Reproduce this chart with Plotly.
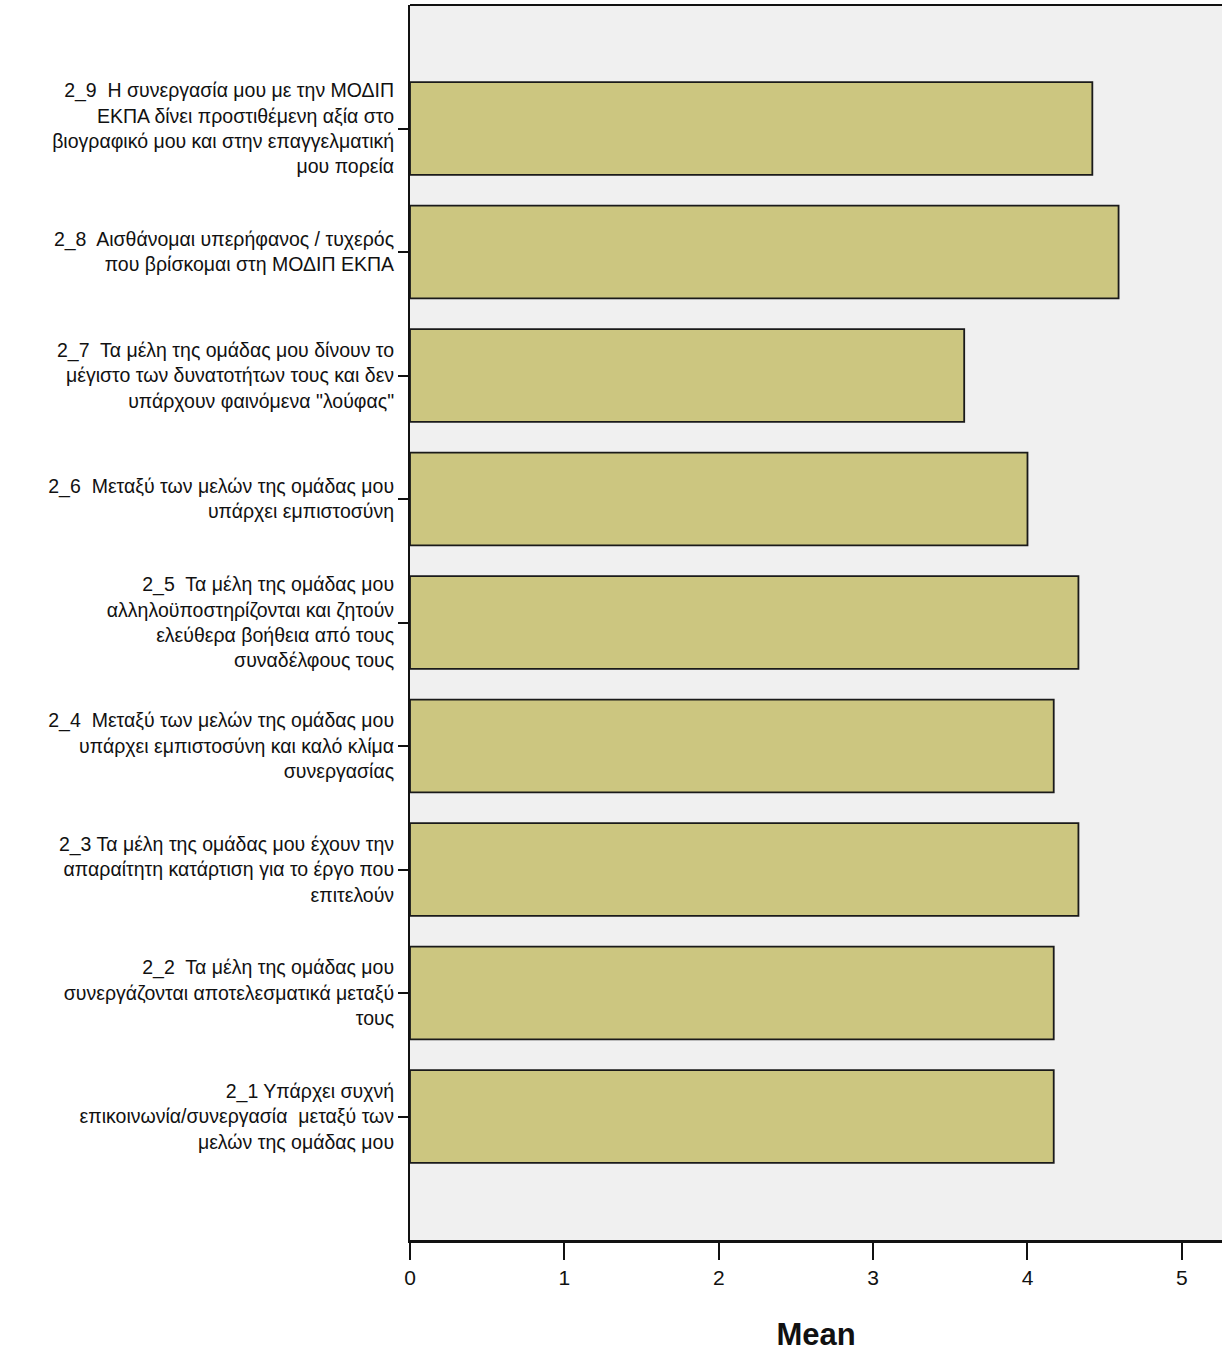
import plotly.graph_objects as go

# Survey items (bottom to top) and their mean scores
items = [
    "2_1 Υπάρχει συχνή<br>επικοινωνία/συνεργασία  μεταξύ των<br>μελών της ομάδας μου",
    "2_2  Τα μέλη της ομάδας μου<br>συνεργάζονται αποτελεσματικά μεταξύ<br>τους",
    "2_3 Τα μέλη της ομάδας μου έχουν την<br>απαραίτητη κατάρτιση για το έργο που<br>επιτελούν",
    "2_4  Μεταξύ των μελών της ομάδας μου<br>υπάρχει εμπιστοσύνη και καλό κλίμα<br>συνεργασίας",
    "2_5  Τα μέλη της ομάδας μου<br>αλληλοϋποστηρίζονται και ζητούν<br>ελεύθερα βοήθεια από τους<br>συναδέλφους τους",
    "2_6  Μεταξύ των μελών της ομάδας μου<br>υπάρχει εμπιστοσύνη",
    "2_7  Τα μέλη της ομάδας μου δίνουν το<br>μέγιστο των δυνατοτήτων τους και δεν<br>υπάρχουν φαινόμενα \"λούφας\"",
    "2_8  Αισθάνομαι υπερήφανος / τυχερός<br>που βρίσκομαι στη ΜΟΔΙΠ ΕΚΠΑ",
    "2_9  Η συνεργασία μου με την ΜΟΔΙΠ<br>ΕΚΠΑ δίνει προστιθέμενη αξία στο<br>βιογραφικό μου και στην επαγγελματική<br>μου πορεία",
]
means = [4.17, 4.17, 4.33, 4.17, 4.33, 4.00, 3.59, 4.59, 4.42]

x_ticks = [0, 1, 2, 3, 4, 5]

font_family = "Liberation Sans, Arial, sans-serif"

fig = go.Figure()
fig.add_trace(go.Bar(
    x=means, y=items, orientation="h", width=0.75,
    marker=dict(color="#ccc680", line=dict(color="#1a1a1a", width=1.8)),
))

fig.update_layout(
    width=1222, height=1352,
    margin=dict(l=410, r=0, t=5, b=112),
    paper_bgcolor="white", plot_bgcolor="#f0f0f0",
    font=dict(family=font_family, color="#111111"),
    showlegend=False, bargap=0.25,
    xaxis=dict(
        range=[0, 5.26], tickvals=x_ticks, ticks="outside", ticklen=17, tickwidth=1.5,
        tickcolor="#111111", showgrid=False, zeroline=False, automargin=False,
        showline=True, linewidth=3, linecolor="#111111",
        tickfont=dict(size=21),
        title=dict(text="<b>Mean</b>", font=dict(size=31), standoff=46),
    ),
    yaxis=dict(
        type="category", range=[-1, 9], ticks="outside", ticklen=10, tickwidth=1.5,
        tickcolor="#111111", showgrid=False, zeroline=False, automargin=False,
        showline=True, linewidth=2, linecolor="#111111",
        tickfont=dict(size=19.5),
    ),
    shapes=[dict(type="line", xref="paper", yref="paper", x0=0, x1=1, y0=1, y1=1,
                 line=dict(color="#111111", width=2))],
)

# drop the default page margin so the figure sits at the window's corner
fig.write_html("out.html", config={"displayModeBar": False},
               post_script="document.body.style.margin='0';")
